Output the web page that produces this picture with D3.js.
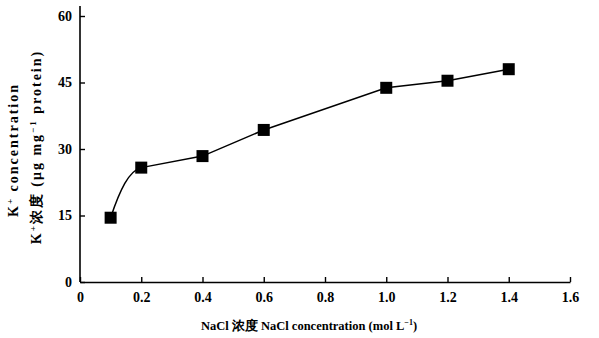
<!DOCTYPE html>
<html>
<head>
<meta charset="utf-8">
<script src="https://cdn.jsdelivr.net/npm/d3@7"></script>
<style>
  body { margin: 0; background: #fff; }
  text { font-family: "Liberation Serif", "DejaVu Serif", serif; font-weight: bold; fill: #000; }
</style>
</head>
<body>
<div id="chart"></div>
<script>
// NaCl concentration (mol/L) vs K+ concentration
var nacl = [0.1, 0.2, 0.4, 0.6, 1.0, 1.2, 1.4];
var kconc = [14.5, 25.8, 28.4, 34.3, 43.8, 45.4, 48.0];
var xTicks = [0, 0.2, 0.4, 0.6, 0.8, 1.0, 1.2, 1.4, 1.6];
var xTickLabels = ["0", "0.2", "0.4", "0.6", "0.8", "1.0", "1.2", "1.4", "1.6"];
var yTicks = [0, 15, 30, 45, 60];

var svg = d3.select("#chart").append("svg")
  .attr("width", 599)
  .attr("height", 338);

var x = d3.scaleLinear().domain([0, 1.6]).range([80, 570]);
var y = d3.scaleLinear().domain([0, 60]).range([282, 16]);

// axes
var xaxis = svg.append("g")
  .attr("transform", "translate(0,282)")
  .call(d3.axisBottom(x).tickValues(xTicks).tickSizeInner(-5).tickSizeOuter(0)
    .tickFormat(function(d, i){ return xTickLabels[i]; }));
xaxis.select(".domain").attr("stroke-width", 1.6);
xaxis.selectAll(".tick line").attr("stroke-width", 1.4);
xaxis.selectAll(".tick text")
  .attr("y", 10)
  .style("font-size", "14px");

var yaxis = svg.append("g")
  .attr("transform", "translate(80,0)")
  .call(d3.axisLeft(y).tickValues(yTicks).tickSizeInner(-5).tickSizeOuter(0));
yaxis.select(".domain").attr("d", "M0," + y(0) + "V6").attr("stroke-width", 1.6);
yaxis.selectAll(".tick line").attr("stroke-width", 1.4);
yaxis.selectAll(".tick text")
  .attr("x", -8)
  .style("font-size", "14px");

// first segment is bent, the rest straight
var x0 = x(nacl[0]), y0 = y(kconc[0]), x1 = x(nacl[1]), y1 = y(kconc[1]);
var p = d3.path();
p.moveTo(x0, y0);
p.bezierCurveTo(x0 + (x1 - x0) * 0.3, y0 - (y0 - y1) * 0.55, x0 + (x1 - x0) * 0.6, y1 + 3, x1, y1);
svg.append("path")
  .attr("d", p.toString())
  .attr("fill", "none")
  .attr("stroke", "#000")
  .attr("stroke-width", 1.5);

var line = d3.line()
  .x(function(d, i){ return x(nacl[i + 1]); })
  .y(function(d){ return y(d); });

svg.append("path")
  .datum(kconc.slice(1))
  .attr("d", line)
  .attr("fill", "none")
  .attr("stroke", "#000")
  .attr("stroke-width", 1.5);

svg.selectAll(".pt")
  .data(kconc)
  .enter().append("rect")
  .attr("class", "pt")
  .attr("x", function(d, i){ return x(nacl[i]) - 6; })
  .attr("y", function(d){ return y(d) - 6; })
  .attr("width", 12)
  .attr("height", 12)
  .attr("fill", "#000");

// titles
svg.append("text")
  .attr("x", 309)
  .attr("y", 330)
  .attr("text-anchor", "middle")
  .style("font-size", "12.5px")
  .html("NaCl 浓度 NaCl concentration (mol L<tspan dy='-5' font-size='8px'>−1</tspan><tspan dy='5'>)</tspan>");

svg.append("text")
  .attr("transform", "translate(18,150) rotate(-90)")
  .attr("text-anchor", "middle")
  .style("font-size", "14px")
  .style("letter-spacing", "2px")
  .html("K<tspan dy='-5' font-size='9px'>+</tspan><tspan dy='5'> concentration</tspan>");

svg.append("text")
  .attr("transform", "translate(41,147) rotate(-90)")
  .attr("text-anchor", "middle")
  .style("font-size", "14px")
  .style("letter-spacing", "2px")
  .html("K<tspan dy='-5' font-size='9px'>+</tspan><tspan dy='5'>浓度 (μg mg</tspan><tspan dy='-5' font-size='9px'>−1</tspan><tspan dy='5'> protein)</tspan>");
</script>
</body>
</html>
